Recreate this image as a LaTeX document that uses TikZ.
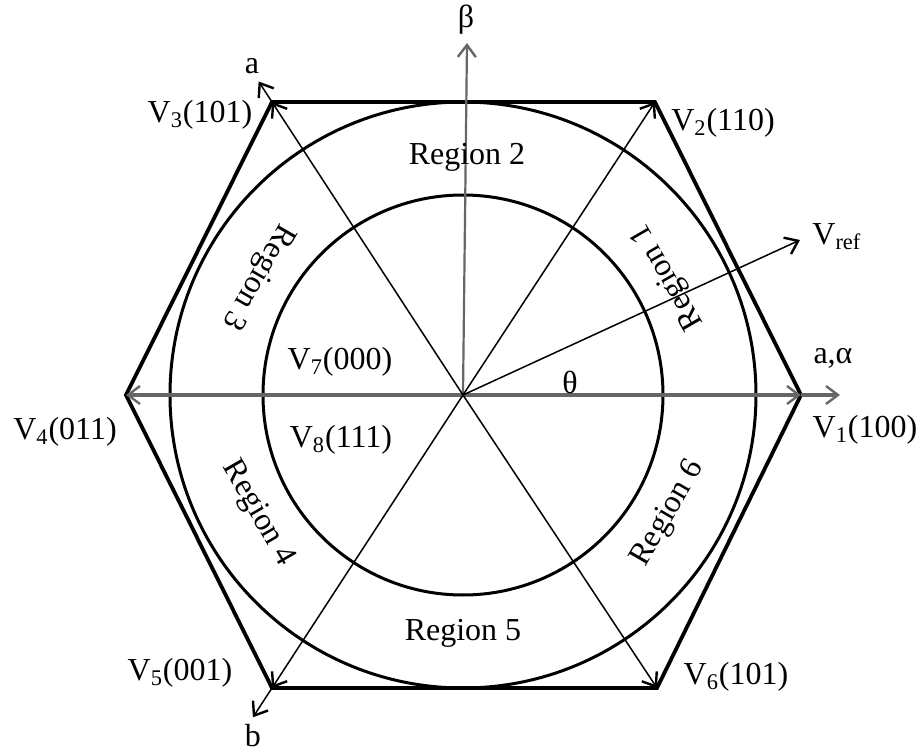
\documentclass[tikz,border=0pt]{standalone}
\usepackage{fontspec}
\setmainfont{Liberation Serif}
\usetikzlibrary{arrows.meta,positioning,calc}

\begin{document}
\begin{tikzpicture}[x=0.5pt, y=0.5pt, >={Straight Barb[length=6pt,width=9pt,line width=1.2pt]},
  lbl/.style={font=\fontsize{16}{18}\selectfont, inner sep=0pt},
  vec/.style={->, line width=0.75pt, black},
  axis/.style={->, line width=1.6pt, black!60}]
  \useasboundingbox (-463,-356) rectangle (460,395);
  \coordinate (O) at (0,0);
  \foreach \n/\x/\y in {1/338/0, 2/192/293, 3/-191/293, 4/-337/0, 5/-191/-293, 6/194/-293} {
    \coordinate (v\n) at (\x,\y);
  }
  \coordinate (aend) at ($(O)!1.07!(v3)$);
  \coordinate (bend) at ($(O)!1.1!(v5)$);
  \coordinate (alend) at (377,0);
  \coordinate (betend) at (4,352);
  \coordinate (vref) at (337,155);
  \draw[line width=1.9pt, line join=miter] (v1) -- (v2) -- (v3) -- (v4) -- (v5) -- (v6) -- cycle;
  \draw[line width=1.5pt] (O) circle (293);
  \draw[line width=1.5pt] (O) circle (200);
  \draw[axis] (O) -- (v4);
  \draw[axis] (O) -- (v1);
  \draw[axis] (v1) -- (alend);
  \draw[axis, line width=1.1pt] (O) -- (betend);
  \foreach \n in {2,3,5,6} {
    \draw[vec] (O) -- (v\n);
  }
  \draw[vec] (v3) -- (aend);
  \draw[vec] (v5) -- (bend);
  \draw[vec] (O) -- (vref);
  \node[lbl] (lbet) at (3,375) {β};
  \node[lbl] (la) at (-211,329) {a};
  \node[lbl] (lb) at (-210,-341) {b};
  \node[lbl] (lal) at (370,37) {a,α};
  \node[lbl, anchor=west] (lref) at (349,158) {V\textsubscript{ref}};
  \node[lbl] (lth) at (107,13) {θ};
  \node[lbl] (l1) at (402,-35) {V\textsubscript{1}(100)};
  \node[lbl] (l2) at (260,272) {V\textsubscript{2}(110)};
  \node[lbl] (l3) at (-263,280) {V\textsubscript{3}(101)};
  \node[lbl] (l4) at (-398,-37) {V\textsubscript{4}(011)};
  \node[lbl] (l5) at (-283,-278) {V\textsubscript{5}(001)};
  \node[lbl] (l6) at (273,-282) {V\textsubscript{6}(101)};
  \node[lbl] (l7) at (-123,33) {V\textsubscript{7}(000)};
  \node[lbl] (l8) at (-122,-45) {V\textsubscript{8}(111)};
  \node[lbl] (r2) at (4,238) {Region 2};
  \node[lbl] (r5) at (0,-238) {Region 5};
  \foreach \k/\a in {1/30, 3/150, 4/210, 6/330} {
    \node[lbl, rotate=\a+90] (r\k) at (\a:237) {Region \k};
  }
\end{tikzpicture}
\end{document}
